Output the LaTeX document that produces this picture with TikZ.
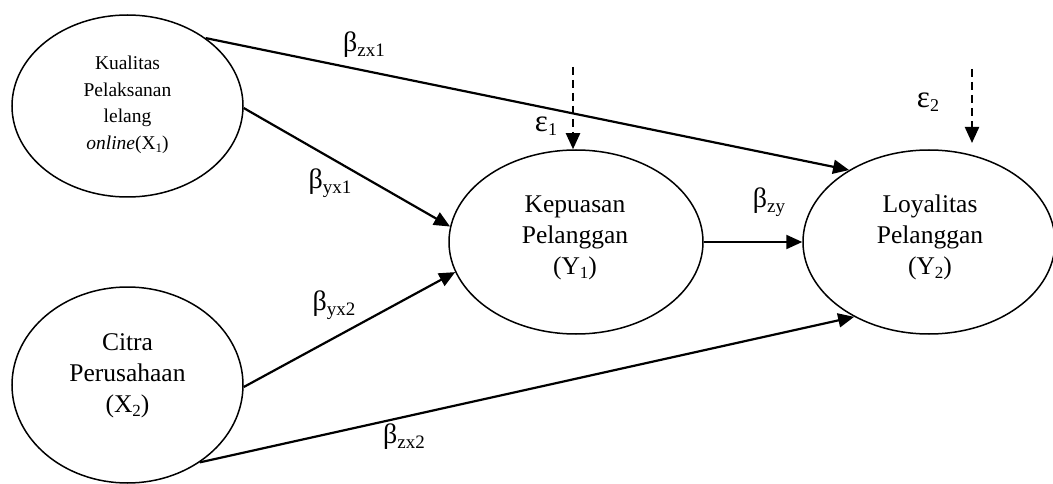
\documentclass[tikz,border=0pt]{standalone}
\usepackage{fontspec}
\setmainfont{Liberation Serif}
\usetikzlibrary{shapes.geometric,arrows.meta}
\newcommand{\bsym}[1]{{\fontsize{28}{28}\selectfont β}\raisebox{-5pt}{\fontsize{19}{19}\selectfont #1}}
\newcommand{\esym}[1]{{\fontsize{31}{31}\selectfont ε}\raisebox{-4pt}{\fontsize{18}{18}\selectfont #1}}
\newcommand{\lsubA}[1]{\raisebox{-4pt}{\fontsize{17}{17}\selectfont #1}}
\newcommand{\lsubB}[1]{\raisebox{-3pt}{\fontsize{13}{13}\selectfont #1}}
\begin{document}
\begin{tikzpicture}[x=1pt,y=-1pt,
  latent/.style={ellipse,draw,line width=1.5pt,inner sep=0pt},
  pathar/.style={line width=2.2pt,-{Triangle[length=16pt,width=14pt]}},
  errar/.style={line width=2.2pt,dash pattern=on 8pt off 5pt,-{Triangle[length=16pt,width=14pt]}},
  bigtext/.style={font=\fontsize{25.5}{31}\selectfont,align=center,inner sep=0pt},
  smalltext/.style={font=\fontsize{19.5}{26.5}\selectfont,align=center,inner sep=0pt},
  coef/.style={font=\fontsize{25}{25}\selectfont,inner sep=0pt}]
\useasboundingbox (0,0) rectangle (1053,484);
% latent variables
\node[latent,minimum width=231pt,minimum height=182pt] (x1) at (127.5,106) {};
\node[latent,minimum width=231pt,minimum height=196pt] (x2) at (127.5,385) {};
\node[latent,minimum width=254pt,minimum height=184pt] (y1) at (576,242) {};
\node[latent,minimum width=252pt,minimum height=184pt] (y2) at (929,242) {};
% texts
\node[smalltext] (tx1) at (127.5,105) {Kualitas\\Pelaksanan\\lelang\\\textit{online}(X\lsubB{1})};
\node[bigtext] (tx2) at (127.5,375.5) {Citra\\Perusahaan\\(X\lsubA{2})};
\node[bigtext] (ty1) at (575,238) {Kepuasan\\Pelanggan\\(Y\lsubA{1})};
\node[bigtext] (ty2) at (930,237) {Loyalitas\\Pelanggan\\(Y\lsubA{2})};
% paths
\draw[pathar] (x1.41.6) -- (y2.138.5);
\draw[pathar] (x1.-1) -- (y1.173.7);
\draw[pathar] (x2.-1) -- (y1.194);
\draw[pathar] (x2.-47.4) -- (y2.225.7);
\draw[pathar] (y1.east) -- (y2.west);
% errors
\coordinate (e1) at (573,67);
\draw[errar] (e1) -- (e1 |- y1.north);
\coordinate (e2) at (972,69);
\coordinate (e2end) at (972,143);
\draw[errar] (e2) -- (e2end);
% labels
\node[coef] (lzx1) at (364,45) {\bsym{zx1}};
\node[coef] (lyx1) at (330,183) {\bsym{yx1}};
\node[coef] (lyx2) at (334,305) {\bsym{yx2}};
\node[coef] (lzx2) at (404,437) {\bsym{zx2}};
\node[coef] (lzy) at (769,202) {\bsym{zy}};
\node[coef] (le1) at (546,126) {\esym{1}};
\node[coef] (le2) at (928,102) {\esym{2}};
\end{tikzpicture}
\end{document}
